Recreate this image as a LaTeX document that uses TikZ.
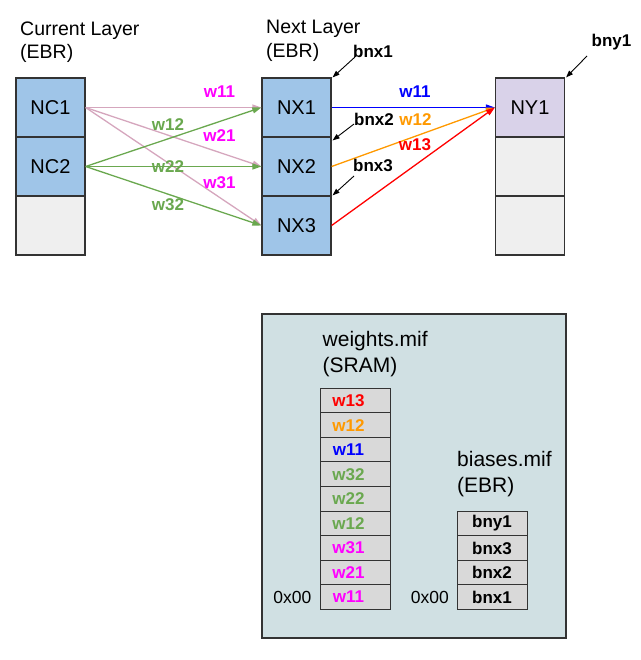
\documentclass[tikz,border=0pt]{standalone}
\usepackage{fontspec}
\setmainfont{Liberation Sans}
\usetikzlibrary{arrows.meta}
\definecolor{cellblue}{HTML}{9FC5E8}
\definecolor{cellgray}{HTML}{EFEFEF}
\definecolor{cellpurple}{HTML}{D9D2E9}
\definecolor{panelfill}{HTML}{D0E0E3}
\definecolor{memgray}{HTML}{D9D9D9}
\definecolor{wmag}{HTML}{FF00FF}
\definecolor{wgreen}{HTML}{6AA84F}
\definecolor{wpink}{HTML}{D5A6BD}
\definecolor{wblue}{HTML}{0000FF}
\definecolor{worange}{HTML}{FF9900}
\definecolor{wred}{HTML}{FF0000}
\definecolor{edge}{HTML}{333333}
\tikzset{
  cell/.style={draw=edge, line width=1.2pt, minimum width=69pt, minimum height=59pt, inner sep=0pt, font=\fontsize{20}{22}\selectfont},
  cellB/.style={cell, fill=cellblue},
  cellG/.style={cell, fill=cellgray},
  cellP/.style={cell, fill=cellpurple},
  memcell/.style={draw=edge, line width=1pt, fill=memgray, minimum width=70pt, minimum height=24.5pt, inner sep=0pt, font=\bfseries\fontsize{17}{19}\selectfont},
  head/.style={anchor=base west, inner sep=0pt, font=\fontsize{19.5}{22}\selectfont},
  headB/.style={anchor=base west, inner sep=0pt, font=\fontsize{21}{24}\selectfont},
  wlab/.style={anchor=base, inner sep=0pt, font=\bfseries\fontsize{17}{19}\selectfont},
  addr/.style={anchor=base east, inner sep=0pt, font=\fontsize{17.5}{19}\selectfont},
  conn/.style={line width=1.3pt, -{Triangle[length=9pt,width=6pt]}},
  barrow/.style={line width=0.9pt, black, -{Triangle[length=7pt,width=5pt]}}
}
\begin{document}
\begin{tikzpicture}[x=1pt,y=-1pt]
\useasboundingbox (0,0) rectangle (640,660);
% headings
\node[head] (h1a) at (20,36) {Current Layer};
\node[head] (h1b) at (20,59) {(EBR)};
\node[head] (h2a) at (266,34) {Next Layer};
\node[head] (h2b) at (266,57.5) {(EBR)};
% columns
\node[cellB] (NC1) at (50.5,107.5) {NC1};
\node[cellB] (NC2) at (50.5,166.5) {NC2};
\node[cellG] (NC3) at (50.5,225.5) {};
\node[cellB] (NX1) at (296.5,107.5) {NX1};
\node[cellB] (NX2) at (296.5,166.5) {NX2};
\node[cellB] (NX3) at (296.5,225.5) {NX3};
\node[cellP] (NY1) at (530,107.5) {NY1};
\node[cellG] (NY2) at (530,166.5) {};
\node[cellG] (NY3) at (530,225.5) {};
% left connectors
\draw[conn, wpink] (NC1.east) -- (NX1.west);
\draw[conn, wpink] (NC1.east) -- (NX2.west);
\draw[conn, wpink] (NC1.east) -- (NX3.west);
\draw[conn, wgreen] (NC2.east) -- (NX1.west);
\draw[conn, wgreen] (NC2.east) -- (NX2.west);
\draw[conn, wgreen] (NC2.east) -- (NX3.west);
\node[wlab, wmag] (l11) at (219.5,98) {w11};
\node[wlab, wgreen] (l12) at (168,131) {w12};
\node[wlab, wmag] (l21) at (219.5,142) {w21};
\node[wlab, wgreen] (l22) at (168,173) {w22};
\node[wlab, wmag] (l31) at (219.5,189) {w31};
\node[wlab, wgreen] (l32) at (168,211) {w32};
% right connectors
\draw[conn, wblue] (NX1.east) -- (NY1.west);
\draw[conn, worange] (NX2.east) -- (NY1.west);
\draw[conn, wred] (NX3.east) -- (NY1.west);
\node[wlab, wblue] (r11) at (415,97.5) {w11};
\node[wlab, worange] (r12) at (415.5,125.5) {w12};
\node[wlab, wred] (r13) at (415,150.5) {w13};
% bias labels and arrows
\node[wlab] (bnx1) at (373,58) {bnx1};
\node[wlab] (bnx2) at (374,125.5) {bnx2};
\node[wlab] (bnx3) at (373,172) {bnx3};
\node[wlab] (bny1) at (611.5,46.5) {bny1};
\coordinate (s1) at (355,57);
\coordinate (s2) at (354,124);
\coordinate (s3) at (354,176);
\coordinate (s4) at (587,56);
\draw[barrow] (s1) -- ([shift={(1,0)}]NX1.north east);
\draw[barrow] (s2) -- ([shift={(1,4)}]NX2.north east);
\draw[barrow] (s3) -- ([shift={(1,0)}]NX3.north east);
\draw[barrow] (s4) -- ([shift={(1,0)}]NY1.north east);
% bottom panel
\node[draw=edge, line width=1.2pt, fill=panelfill, minimum width=304pt, minimum height=324pt, inner sep=0pt] (panel) at (414,476) {};
\node[headB] (wt1) at (322.5,346.5) {weights.mif};
\node[headB] (wt2) at (322.5,372.5) {(SRAM)};
\node[headB] (bt1) at (457,466.5) {biases.mif};
\node[headB] (bt2) at (457,492.5) {(EBR)};
\foreach \i/\t/\c in {1/w13/wred,2/w12/worange,3/w11/wblue,4/w32/wgreen,5/w22/wgreen,6/w12/wgreen,7/w31/wmag,8/w21/wmag,9/w11/wmag}{
  \node[memcell, text=\c] (W\i) at (355,{388.3+24.55*(\i-0.5)}) {\hspace*{-13pt}\t};
}
\foreach \i/\t in {1/bny1,2/bnx3,3/bnx2,4/bnx1}{
  \node[memcell] (B\i) at (492,{511.3+24.5*(\i-0.5)}) {\t};
}
\node[addr] (a1) at (311.5,603.3) {0x00};
\node[addr] (a2) at (449,603.3) {0x00};
\end{tikzpicture}
\end{document}
